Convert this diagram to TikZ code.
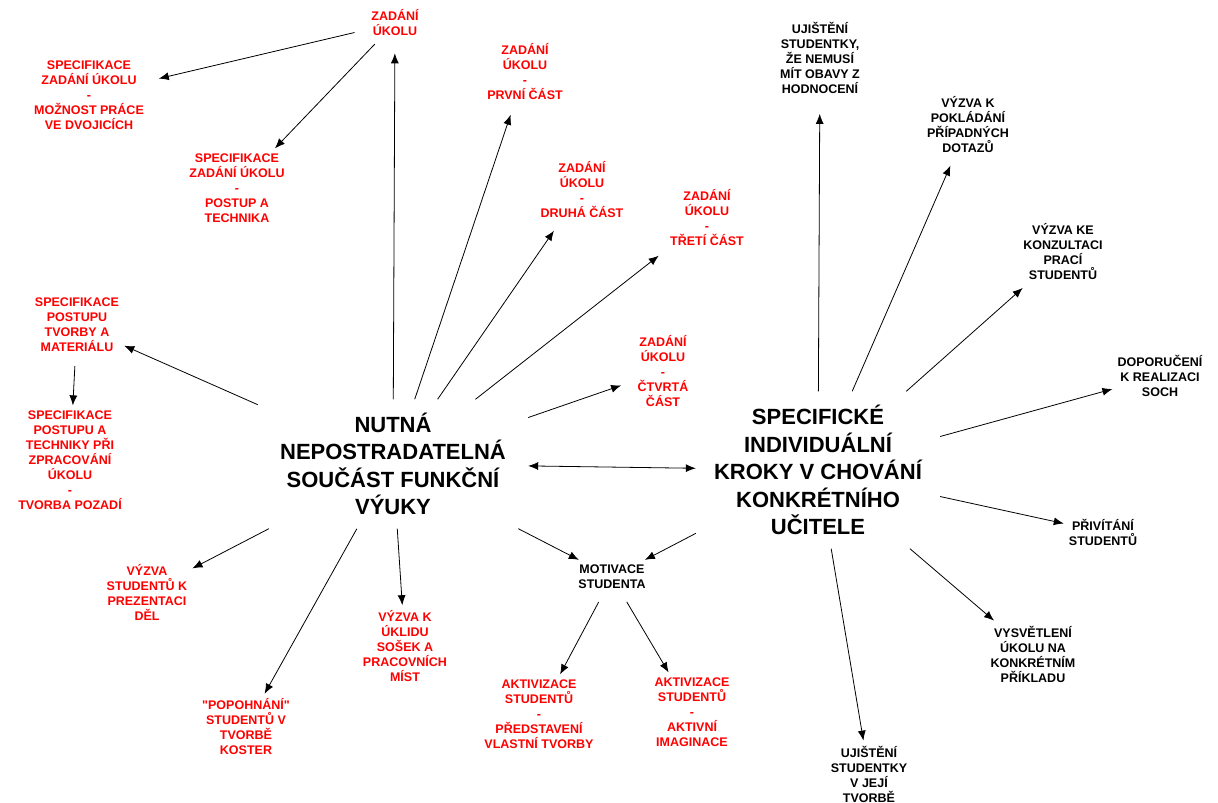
\documentclass[tikz,border=0pt]{standalone}
\usepackage{fontspec}
\setmainfont{Liberation Sans}
\usepackage{tikz}
\usetikzlibrary{arrows.meta}
\tikzset{%
	core/.style    = {font=\fontsize{22}{27.5}\selectfont\bfseries, align=center, inner sep=0pt},
	task/.style    = {text=red, font=\fontsize{12.5}{15}\selectfont\bfseries, align=center, inner sep=5pt},
	teacher/.style = {text=black, font=\fontsize{12.5}{15}\selectfont\bfseries, align=center, inner sep=5pt},
	arrow/.style   = {line width=0.8pt, -{Latex[length=10pt,width=8pt]}},
	twoway/.style  = {line width=0.8pt, {Latex[length=10pt,width=8pt]}-{Latex[length=10pt,width=8pt]}},
}

\begin{document}
\begin{tikzpicture}[x=1pt,y=-1pt]

	\useasboundingbox (0,0) rectangle (1218,803);
	
	% the two centres
	\node[core, minimum width=270pt, minimum height=129pt] (nutna) at (393,464) {NUTNÁ\\NEPOSTRADATELNÁ\\SOUČÁST FUNKČNÍ\\VÝUKY};
	\node[core, minimum width=244pt, minimum height=157pt] (spec) at (818,470) {SPECIFICKÉ\\INDIVIDUÁLNÍ\\KROKY V CHOVÁNÍ\\KONKRÉTNÍHO\\UČITELE};
	
	% red nodes
	\node[task] (zad) at (395,23) {ZADÁNÍ\\ÚKOLU};
	\node[task] (dvojice) at (89,95) {SPECIFIKACE\\ZADÁNÍ ÚKOLU\\-\\MOŽNOST PRÁCE\\VE DVOJICÍCH};
	\node[task] (technika) at (237,188) {SPECIFIKACE\\ZADÁNÍ ÚKOLU\\-\\POSTUP A\\TECHNIKA};
	\node[task] (prvni) at (525,72) {ZADÁNÍ\\ÚKOLU\\-\\PRVNÍ ČÁST};
	\node[task] (druha) at (582,190) {ZADÁNÍ\\ÚKOLU\\-\\DRUHÁ ČÁST};
	\node[task] (treti) at (707,218) {ZADÁNÍ\\ÚKOLU\\-\\TŘETÍ ČÁST};
	\node[task] (ctvrta) at (663,371) {ZADÁNÍ\\ÚKOLU\\-\\ČTVRTÁ\\ČÁST};
	\node[task] (material) at (77,325) {SPECIFIKACE\\POSTUPU\\TVORBY A\\MATERIÁLU};
	\node[task] (pozadi) at (70,460) {SPECIFIKACE\\POSTUPU A\\TECHNIKY PŘI\\ZPRACOVÁNÍ\\ÚKOLU\\-\\TVORBA POZADÍ};
	\node[task] (prezentace) at (147,592) {VÝZVA\\STUDENTŮ K\\PREZENTACI\\DĚL};
	\node[task] (kostry) at (246,727) {\textquotedbl POPOHNÁNÍ\textquotedbl\\STUDENTŮ V\\TVORBĚ\\KOSTER};
	\node[task] (uklid) at (405,646) {VÝZVA K\\ÚKLIDU\\SOŠEK A\\PRACOVNÍCH\\MÍST};
	\node[task] (tvorba) at (539,714) {AKTIVIZACE\\STUDENTŮ\\-\\PŘEDSTAVENÍ\\VLASTNÍ TVORBY};
	\node[task] (imaginace) at (692,712) {AKTIVIZACE\\STUDENTŮ\\-\\AKTIVNÍ\\IMAGINACE};
	
	% black nodes
	\node[teacher] (motivace) at (612,577) {MOTIVACE\\STUDENTA};
	\node[teacher] (obavy) at (820,58) {UJIŠTĚNÍ\\STUDENTKY,\\ŽE NEMUSÍ\\MÍT OBAVY Z\\HODNOCENÍ};
	\node[teacher] (dotazy) at (968,125) {VÝZVA K\\POKLÁDÁNÍ\\PŘÍPADNÝCH\\DOTAZŮ};
	\node[teacher] (konzultace) at (1063,252) {VÝZVA KE\\KONZULTACI\\PRACÍ\\STUDENTŮ};
	\node[teacher] (realizace) at (1160,376) {DOPORUČENÍ\\K REALIZACI\\SOCH};
	\node[teacher] (privitani) at (1103,532) {PŘIVÍTÁNÍ\\STUDENTŮ};
	\node[teacher] (priklad) at (1033,654) {VYSVĚTLENÍ\\ÚKOLU NA\\KONKRÉTNÍM\\PŘÍKLADU};
	\node[teacher] (tvorbe) at (869,774) {UJIŠTĚNÍ\\STUDENTKY\\V JEJÍ\\TVORBĚ};
	
	\draw[twoway] (nutna) -- (spec);
	
	\draw[arrow, shorten >=12pt] (nutna) -- (zad);
	\draw[arrow, shorten >=10pt] (nutna) -- (prvni);
	\draw[arrow, shorten >=9pt] (nutna) -- (druha);
	\draw[arrow, shorten >=8pt] (nutna) -- (treti);
	\draw[arrow, shorten >=12pt] (nutna) -- (ctvrta);
	\draw[arrow] (nutna) -- (material);
	\draw[arrow] (nutna) -- (prezentace);
	\draw[arrow] (nutna) -- (kostry);
	\draw[arrow] (nutna) -- (uklid);
	\draw[arrow] (nutna) -- (motivace);
	
	\draw[arrow, shorten <=12pt, shorten >=10pt] (zad) -- (dvojice);
	\draw[arrow, shorten <=4pt] (zad) -- (technika);
	\draw[arrow, shorten <=9pt] (material) -- (pozadi);
	\draw[arrow, shorten <=9pt] (motivace) -- (tvorba);
	\draw[arrow, shorten <=9pt] (motivace) -- (imaginace);
	
	\draw[arrow, shorten >=15pt] (spec) -- (obavy);
	\draw[arrow, shorten >=8pt] (spec) -- (dotazy);
	\draw[arrow, shorten >=4pt] (spec) -- (konzultace);
	\draw[arrow] (spec) -- (realizace);
	\draw[arrow] (spec) -- (privitani);
	\draw[arrow] (spec) -- (priklad);
	\draw[arrow] (spec) -- (tvorbe);
	\draw[arrow] (spec) -- (motivace);
	
\end{tikzpicture}
\end{document}
